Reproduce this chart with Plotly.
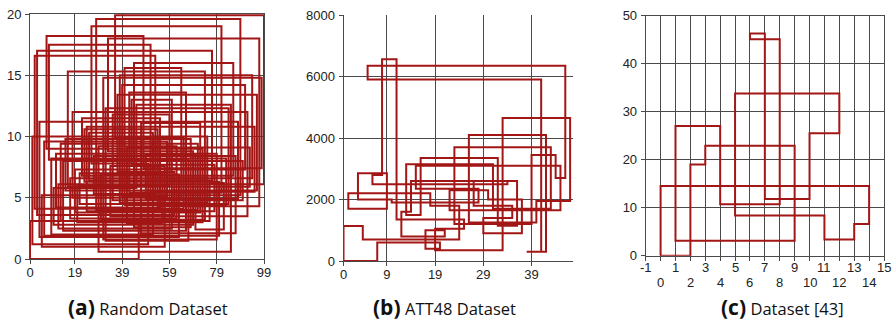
import plotly.graph_objects as go

# ---------------- data ----------------
# (a) Random dataset: tour order (city index on x, value on y)
a_x = [0, 46, 13, 71, 28, 89, 5, 57, 34, 92, 18, 64, 40, 83, 9, 52, 25, 77, 3, 61,
       37, 96, 15, 68, 44, 86, 22, 55, 11, 79, 31, 98, 48, 7, 73, 20, 59, 35, 90, 14,
       66, 42, 81, 26, 50, 1, 75, 38, 94, 17, 62, 29, 85, 45, 10, 69, 33, 97, 54, 23,
       80, 6, 58, 39, 91, 19, 72, 47, 87, 27, 53, 2, 65, 36, 99, 12, 60, 43, 78, 24,
       95, 51, 8, 67, 32, 84, 21, 56, 41, 93, 16, 74, 30, 63, 4, 88, 49, 70, 82, 76]
a_y = [0, 3.1, 9.4, 4.0, 19.6, 5.2, 1.0, 7.6, 3.5, 12.0,
       5.0, 15.6, 4.4, 8.2, 2.0, 10.3, 6.4, 17.0, 3.6, 7.1,
       13.4, 5.6, 9.8, 2.6, 16.0, 6.8, 11.5, 4.2, 8.6, 1.6,
       14.8, 7.4, 18.2, 9.0, 3.0, 6.0, 11.8, 4.8, 8.0, 2.3,
       13.6, 5.4, 19.0, 7.8, 1.2, 10.0, 4.6, 15.0, 6.6, 3.3,
       9.2, 0.6, 12.6, 5.8, 2.8, 8.8, 18.0, 4.3, 10.6, 6.3,
       1.9, 9.6, 5.1, 14.2, 7.3, 3.8, 11.1, 2.1, 8.4, 5.3,
       16.6, 4.1, 9.9, 19.9, 6.1, 2.5, 13.0, 7.7, 3.9, 10.8,
       5.5, 17.5, 8.1, 1.5, 12.3, 4.5, 7.0, 2.9, 9.1, 5.9,
       15.3, 3.2, 6.9, 1.8, 11.2, 4.9, 8.5, 2.4, 6.2, 3.1]
a_xticks = [0, 19, 39, 59, 79, 99]
a_yticks = [0, 5, 10, 15, 20]

# (b) ATT48 dataset
b_x = [0, 7, 20, 17, 21, 12, 14, 34, 6, 8, 11, 25, 19, 33, 47, 40, 26, 42, 38, 41,
       5, 46, 44, 39, 23, 43, 31, 13, 16, 32, 36, 27, 35, 29, 37, 30, 22, 45, 15, 28,
       10, 3, 9, 1, 18, 24, 4, 2]
b_y = [0, 600, 400, 1000, 800, 1600, 2600, 2500, 2800, 6560, 1350, 1050, 350, 4650, 1950, 1250, 4100, 300, 300, 5900,
       6350, 2700, 3450, 1200, 3700, 1700, 3150, 1500, 3350, 1150, 2600, 1800, 1400, 900, 2000, 2300, 1650, 3100, 2350, 1900,
       2000, 2850, 1700, 2200, 1800, 700, 1140, 1140]
b_xticks = [0, 9, 19, 29, 39]
b_yticks = [0, 2000, 4000, 6000, 8000]

# (c) Dataset [43]
c_x = [0, 2, 3, 9, 1, 4, 8, 6, 7, 10, 12, 5, 11, 13, 14]
c_y = [0, 19, 22.9, 3.1, 27, 10.7, 45.1, 46.3, 11.8, 25.5, 33.8, 8.4, 3.4, 6.6, 14.5]
c_xticks = list(range(-1, 16))
c_yticks = [0, 10, 20, 30, 40, 50]

titles = [("(a)", "Random Dataset"), ("(b)", "ATT48 Dataset"), ("(c)", "Dataset [43]")]

# ---------------- figure ----------------
W, H = 894, 324
RED = "#a31616"
GRID = "#4a4a4a"

fig = go.Figure()

def closed(xs, ys):
    return list(xs) + [xs[0]], list(ys) + [ys[0]]

for (xs, ys), n in zip([(a_x, a_y), (b_x, b_y), (c_x, c_y)], ["", "2", "3"]):
    cx, cy = closed(xs, ys)
    fig.add_trace(go.Scatter(x=cx, y=cy, mode="lines", line=dict(color=RED, width=2, shape="hv"),
                             xaxis="x" + n, yaxis="y" + n, hoverinfo="skip"))

def px_dom(a, b):
    return [a / W, b / W]

def py_dom(top, bottom):
    return [1 - bottom / H, 1 - top / H]

tickfont = dict(family="Liberation Sans, Arial, sans-serif", size=13, color="#222")
common = dict(showgrid=True, gridcolor=GRID, gridwidth=1, zeroline=False, automargin=False,
              showline=True, linecolor=GRID, linewidth=1, tickangle=0, ticklabeloverflow="allow",
              ticks="outside", ticklen=4, tickcolor=GRID, tickfont=tickfont, fixedrange=True)
xcommon = dict(common, ticklabelstandoff=-3)
ycommon = dict(common, ticklabelstandoff=1)

fig.update_layout(
    template="none",
    width=W, height=H, margin=dict(l=0, r=0, t=0, b=0),
    paper_bgcolor="white", plot_bgcolor="white", showlegend=False,
    xaxis=dict(domain=px_dom(30, 264), range=[0, 99], tickvals=a_xticks, mirror=True, anchor="y", **xcommon),
    yaxis=dict(domain=py_dom(14, 259), range=[0, 20], tickvals=a_yticks, mirror=True, anchor="x", **ycommon),
    xaxis2=dict(domain=px_dom(343.5, 573), range=[0, 47.6], tickvals=b_xticks, anchor="y2", **xcommon),
    yaxis2=dict(domain=py_dom(15, 261), range=[0, 8000], tickvals=b_yticks, anchor="x2", **ycommon),
    xaxis3=dict(domain=px_dom(645.7, 884), range=[-1, 15], tickvals=c_xticks, showticklabels=False,
                mirror=True, anchor="y3", **xcommon),
    yaxis3=dict(domain=py_dom(15.7, 255.7), range=[0, 50], tickvals=c_yticks, mirror=True, anchor="x3", **ycommon),
)

# staggered tick labels of panel (c), placed through its x axis
for v in c_xticks:
    row_y = 267.5 if v % 2 != 0 else 282.0
    fig.add_annotation(x=v, xref="x3", y=1 - row_y / H, yref="paper", text=str(v),
                       showarrow=False, xanchor="center", yanchor="middle", font=tickfont)

title_x = [147.5, 444, 782.5]
for (lab, txt), cxp in zip(titles, title_x):
    fig.add_annotation(x=cxp / W, y=1 - 307 / H, xref="paper", yref="paper",
                       text="<span style='font-size:21px'><b>" + lab + "</b></span> "
                            "<span style='font-size:16.5px'>" + txt + "</span>",
                       showarrow=False, xanchor="center", yanchor="middle",
                       font=dict(family="Open Sans, sans-serif", size=17, color="#111"))

# remove the default 8px page margin so the 894x324 figure fills the window exactly
fig.write_html("out.html", config={"displayModeBar": False},
               post_script="document.body.style.margin='0px';document.body.style.overflow='hidden';")
